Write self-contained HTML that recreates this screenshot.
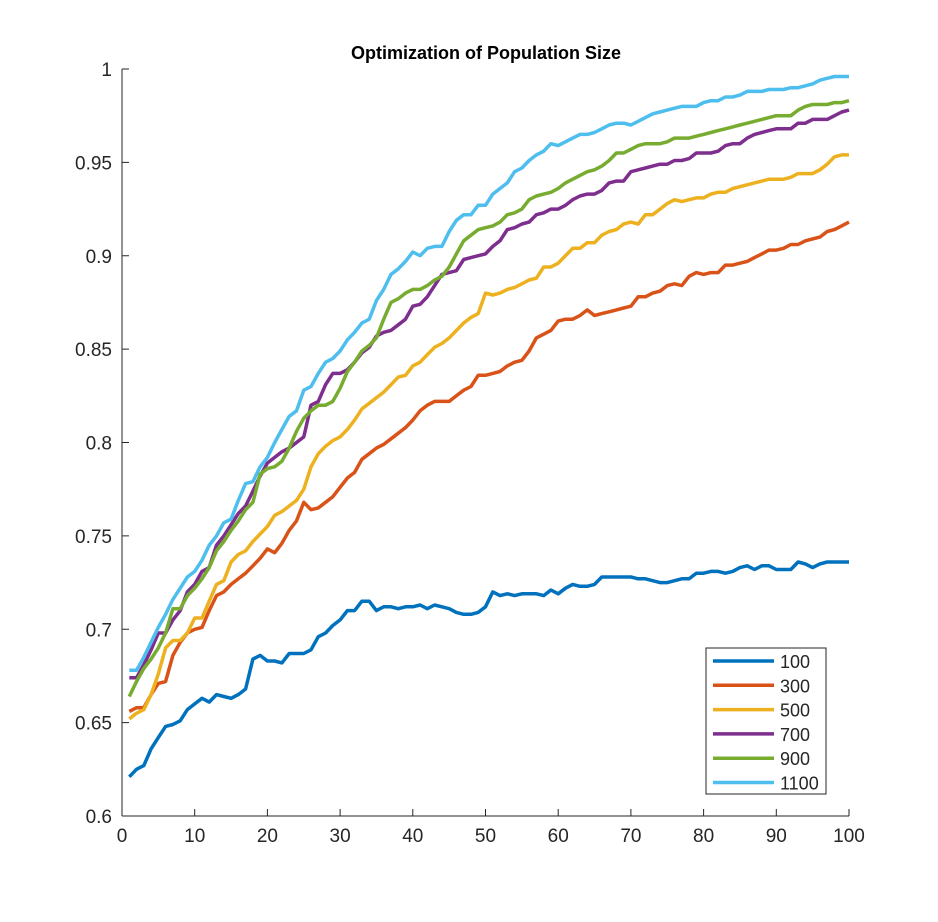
<!DOCTYPE html>
<html><head><meta charset="utf-8"><style>
body{margin:0;background:#fff;}
svg text{font-family:"Liberation Sans",Arial,sans-serif;fill:#262626;}
</style></head><body>
<svg id="chart" width="938" height="917" xmlns="http://www.w3.org/2000/svg">
<rect width="938" height="917" fill="#fff"/>
<text x="486" y="59" text-anchor="middle" font-size="18" font-weight="bold" style="fill:#000">Optimization of Population Size</text>
<g id="axes"></g><g id="series"></g><g id="legend"></g>
</svg>
<script>
const xTicks=[0,10,20,30,40,50,60,70,80,90,100];
const yTicks=[0.6,0.65,0.7,0.75,0.8,0.85,0.9,0.95,1];
const yTickLabels=["0.6","0.65","0.7","0.75","0.8","0.85","0.9","0.95","1"];
const seriesNames=["100","300","500","700","900","1100"];
const s100=[0.621,0.625,0.627,0.636,0.642,0.648,0.649,0.651,0.657,0.66,0.663,0.661,0.665,0.664,0.663,0.665,0.668,0.684,0.686,0.683,0.683,0.682,0.687,0.687,0.687,0.689,0.696,0.698,0.702,0.705,0.71,0.71,0.715,0.715,0.71,0.712,0.712,0.711,0.712,0.712,0.713,0.711,0.713,0.712,0.711,0.709,0.708,0.708,0.709,0.712,0.72,0.718,0.719,0.718,0.719,0.719,0.719,0.718,0.721,0.719,0.722,0.724,0.723,0.723,0.724,0.728,0.728,0.728,0.728,0.728,0.727,0.727,0.726,0.725,0.725,0.726,0.727,0.727,0.73,0.73,0.731,0.731,0.73,0.731,0.733,0.734,0.732,0.734,0.734,0.732,0.732,0.732,0.736,0.735,0.733,0.735,0.736,0.736,0.736,0.736];
const s300=[0.656,0.658,0.658,0.665,0.671,0.672,0.686,0.693,0.698,0.7,0.701,0.71,0.718,0.72,0.724,0.727,0.73,0.734,0.738,0.743,0.741,0.746,0.753,0.758,0.768,0.764,0.765,0.768,0.771,0.776,0.781,0.784,0.791,0.794,0.797,0.799,0.802,0.805,0.808,0.812,0.817,0.82,0.822,0.822,0.822,0.825,0.828,0.83,0.836,0.836,0.837,0.838,0.841,0.843,0.844,0.849,0.856,0.858,0.86,0.865,0.866,0.866,0.868,0.871,0.868,0.869,0.87,0.871,0.872,0.873,0.878,0.878,0.88,0.881,0.884,0.885,0.884,0.889,0.891,0.89,0.891,0.891,0.895,0.895,0.896,0.897,0.899,0.901,0.903,0.903,0.904,0.906,0.906,0.908,0.909,0.91,0.913,0.914,0.916,0.918];
const s500=[0.652,0.655,0.657,0.665,0.676,0.69,0.694,0.694,0.698,0.706,0.706,0.715,0.724,0.726,0.736,0.74,0.742,0.747,0.751,0.755,0.761,0.763,0.766,0.769,0.775,0.787,0.794,0.798,0.801,0.803,0.807,0.812,0.818,0.821,0.824,0.827,0.831,0.835,0.836,0.841,0.843,0.847,0.851,0.853,0.856,0.86,0.864,0.867,0.869,0.88,0.879,0.88,0.882,0.883,0.885,0.887,0.888,0.894,0.894,0.896,0.9,0.904,0.904,0.907,0.907,0.911,0.913,0.914,0.917,0.918,0.917,0.922,0.922,0.925,0.928,0.93,0.929,0.93,0.931,0.931,0.933,0.934,0.934,0.936,0.937,0.938,0.939,0.94,0.941,0.941,0.941,0.942,0.944,0.944,0.944,0.946,0.949,0.953,0.954,0.954];
const s700=[0.674,0.674,0.681,0.689,0.698,0.698,0.705,0.71,0.72,0.724,0.731,0.733,0.745,0.75,0.756,0.762,0.766,0.774,0.782,0.789,0.792,0.795,0.797,0.8,0.803,0.82,0.822,0.831,0.837,0.837,0.839,0.843,0.848,0.851,0.857,0.859,0.86,0.863,0.866,0.873,0.874,0.878,0.884,0.89,0.891,0.892,0.898,0.899,0.9,0.901,0.905,0.908,0.914,0.915,0.917,0.918,0.922,0.923,0.925,0.925,0.927,0.93,0.932,0.933,0.933,0.935,0.939,0.94,0.94,0.945,0.946,0.947,0.948,0.949,0.949,0.951,0.951,0.952,0.955,0.955,0.955,0.956,0.959,0.96,0.96,0.963,0.965,0.966,0.967,0.968,0.968,0.968,0.971,0.971,0.973,0.973,0.973,0.975,0.977,0.978];
const s900=[0.664,0.672,0.679,0.684,0.69,0.698,0.711,0.711,0.718,0.722,0.727,0.733,0.742,0.747,0.753,0.758,0.764,0.768,0.783,0.786,0.787,0.79,0.797,0.806,0.813,0.817,0.82,0.82,0.822,0.829,0.838,0.843,0.849,0.852,0.856,0.866,0.875,0.877,0.88,0.882,0.882,0.884,0.887,0.889,0.894,0.901,0.908,0.911,0.914,0.915,0.916,0.918,0.922,0.923,0.925,0.93,0.932,0.933,0.934,0.936,0.939,0.941,0.943,0.945,0.946,0.948,0.951,0.955,0.955,0.957,0.959,0.96,0.96,0.96,0.961,0.963,0.963,0.963,0.964,0.965,0.966,0.967,0.968,0.969,0.97,0.971,0.972,0.973,0.974,0.975,0.975,0.975,0.978,0.98,0.981,0.981,0.981,0.982,0.982,0.983];
const s1100=[0.678,0.678,0.685,0.693,0.701,0.708,0.716,0.722,0.728,0.731,0.737,0.745,0.75,0.757,0.759,0.769,0.778,0.779,0.787,0.792,0.8,0.807,0.814,0.817,0.828,0.83,0.837,0.843,0.845,0.849,0.855,0.859,0.864,0.866,0.876,0.882,0.89,0.893,0.897,0.902,0.9,0.904,0.905,0.905,0.913,0.919,0.922,0.922,0.927,0.927,0.933,0.936,0.939,0.945,0.947,0.951,0.954,0.956,0.96,0.959,0.961,0.963,0.965,0.965,0.966,0.968,0.97,0.971,0.971,0.97,0.972,0.974,0.976,0.977,0.978,0.979,0.98,0.98,0.98,0.982,0.983,0.983,0.985,0.985,0.986,0.988,0.988,0.988,0.989,0.989,0.989,0.99,0.99,0.991,0.992,0.994,0.995,0.996,0.996,0.996];
const allSeries=[s100,s300,s500,s700,s900,s1100];
const colors=["#0072BD","#D95319","#EDB120","#7E2F8E","#77AC30","#4DBEEE"];
const L=122,R=849,T=69,B=816;
const xS=v=>L+(v-0)/(100-0)*(R-L);
const yS=v=>B-(v-0.6)/(1-0.6)*(B-T);
const NS="http://www.w3.org/2000/svg";
function mk(tag,attrs,parent){const e=document.createElementNS(NS,tag);for(const k in attrs)e.setAttribute(k,attrs[k]);parent.appendChild(e);return e;}
const ax=document.getElementById('axes');
const xl=mk('line',{x1:L,y1:B,x2:R,y2:B,stroke:'#262626','stroke-width':1},ax);


const yl=mk('line',{x1:L,y1:T,x2:L,y2:B,stroke:'#262626','stroke-width':1},ax);


xTicks.forEach(t=>{const x=xS(t);
mk('line',{x1:x,y1:B,x2:x,y2:B-7,stroke:'#262626'},ax);
const tx=mk('text',{x:x,y:B+26,'text-anchor':'middle','font-size':19},ax);tx.textContent=t;

});
yTicks.forEach((t,i)=>{const y=yS(t);
mk('line',{x1:L,y1:y,x2:L+7,y2:y,stroke:'#262626'},ax);
const tx=mk('text',{x:L-10,y:y+7,'text-anchor':'end','font-size':19},ax);tx.textContent=yTickLabels[i];

});
const sg=document.getElementById('series');
allSeries.forEach((s,k)=>{const pts=s.map((v,i)=>xS(i+1).toFixed(1)+','+yS(v).toFixed(1)).join(' ');
const p=mk('polyline',{points:pts,fill:'none',stroke:colors[k],'stroke-width':3.5,'stroke-linejoin':'round'},sg);

});
const lg=document.getElementById('legend');
const box=mk('rect',{x:706,y:648,width:120,height:146,fill:'#fff',stroke:'#262626','stroke-width':1},lg);


seriesNames.forEach((n,k)=>{const y=661+k*24.3;
mk('line',{x1:713,y1:y,x2:774,y2:y,stroke:colors[k],'stroke-width':3.5},lg);
const t=mk('text',{x:780,y:y+7,'font-size':18},lg);t.textContent=n;

});
</script>
</body></html>
